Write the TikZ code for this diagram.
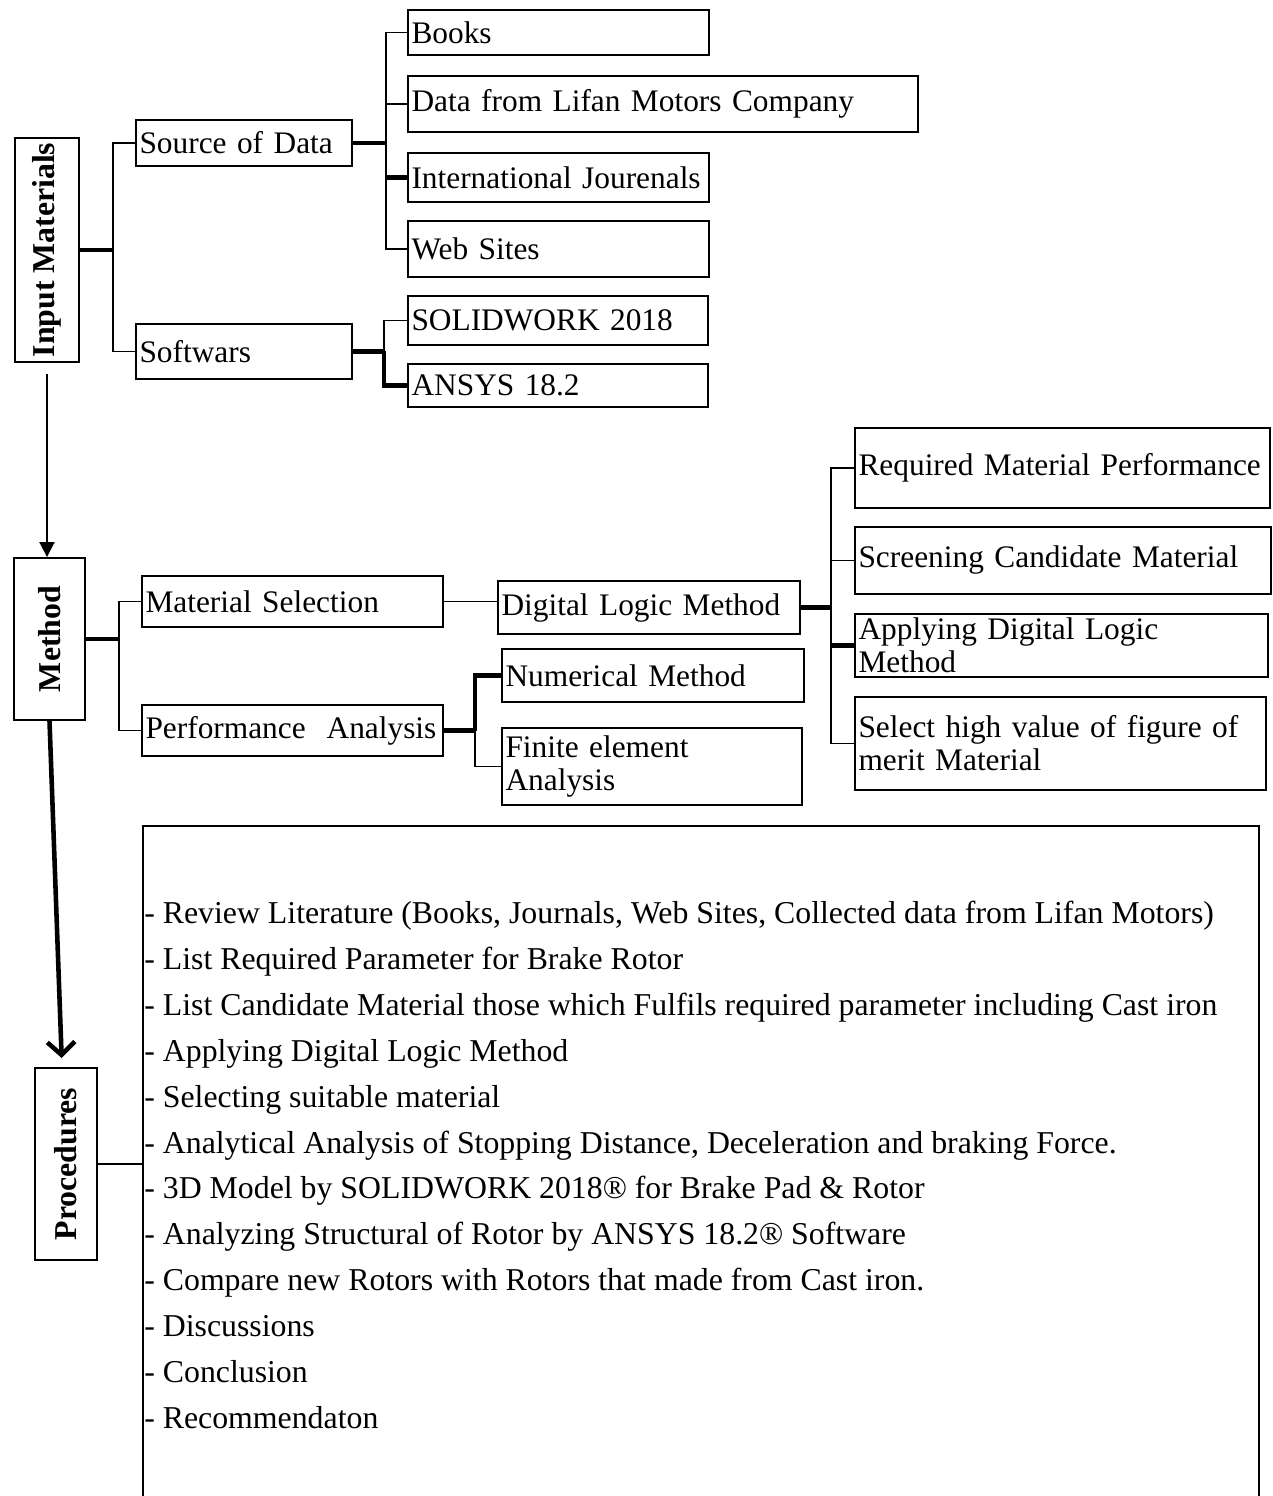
\documentclass[tikz,border=0pt]{standalone}
\usepackage{fontspec}
\setmainfont{Liberation Serif}
\usepackage{graphicx}
\usetikzlibrary{arrows.meta,positioning,calc}
\newcommand{\mainsize}{\fontsize{17.85}{18.8}\selectfont\hyphenpenalty=10000}
\newcommand{\headsize}{\fontsize{18.1}{18.8}\selectfont}
\newcommand{\listsize}{\fontsize{18.1}{26.1}\selectfont}
\tikzset{
  box/.style={draw, rectangle, line width=1.1pt, inner xsep=2pt, inner ysep=0pt,
              align=left, font=\mainsize},
  headbox/.style={draw, rectangle, line width=1.1pt, inner sep=0pt, font=\headsize\bfseries},
  link/.style={line width=1.1pt},
  thicklink/.style={line width=2.3pt},
  arrowthin/.style={-{Triangle[length=3mm,width=3mm]}, line width=1.1pt},
  arrowbold/.style={-{Straight Barb[length=2.6mm,width=5.5mm]}, line width=2.6pt},
}
\begin{document}
\begin{tikzpicture}[x=0.02cm, y=-0.02cm]
\useasboundingbox (0,0) rectangle (1273,1496);
\clip (0,0) rectangle (1273,1496);

% input materials
\node[headbox, minimum width=1.28cm, minimum height=4.48cm] (inmat) at (47,250) {\rotatebox{90}{Input Materials}};
\node[box, text width=4.18cm, minimum height=0.92cm] (srcdata) at (244,143) {Source of Data};
\node[box, text width=4.18cm, minimum height=1.1cm] (soft) at (244,351.5) {Softwars};
\node[box, text width=5.88cm, minimum height=0.9cm] (books) at (558.5,32.5) {Books};
\node[box, text width=10.06cm, minimum height=1.12cm] (lifan) at (663,104) {Data from Lifan Motors Company};
\node[box, text width=5.88cm, minimum height=0.98cm] (journ) at (558.5,177.5) {International Jourenals};
\node[box, text width=5.88cm, minimum height=1.12cm] (web) at (558.5,249) {Web Sites};
\node[box, text width=5.86cm, minimum height=0.98cm] (solid) at (558,320.5) {SOLIDWORK 2018};
\node[box, text width=5.86cm, minimum height=0.86cm] (ansys) at (558,385.5) {ANSYS 18.2};

\draw[thicklink] (inmat.east) -- ++(33,0) coordinate (jin);
\draw[link] (srcdata.west) -| (jin) |- (soft.west);
\draw[thicklink] (srcdata.east) -- ++(33,0) coordinate (jsrc);
\draw[link] (books.west) -| (jsrc) |- (web.west);
\draw[link] (lifan.west) -- (lifan.west -| jsrc);
\draw[thicklink] (journ.west) -- (journ.west -| jsrc);
\draw[thicklink] (soft.east) -- ++(31,0) coordinate (jsoft);
\draw[link] (solid.west) -| (jsoft);
\draw[thicklink] (jsoft) |- (ansys.west);

% method
\node[headbox, minimum width=1.42cm, minimum height=3.24cm] (method) at (49.5,639) {\rotatebox{90}{Method}};
\node[box, text width=5.88cm, minimum height=1.02cm] (matsel) at (292.5,601.5) {Material Selection};
\node[box, text width=5.88cm, minimum height=1.02cm] (perf) at (292.5,730.5) {Performance\ \ Analysis};
\node[box, text width=5.9cm, minimum height=1.06cm] (dlm) at (649,607.5) {Digital Logic Method};
\node[box, text width=5.9cm, minimum height=1.06cm] (numer) at (653,675.5) {Numerical Method};
\node[box, text width=5.86cm, minimum height=1.54cm] (fea) at (652,766.5) {Finite element\\Analysis};
\node[box, text width=8.16cm, minimum height=1.6cm] (reqmat) at (1062.5,468) {Required Material Performance};
\node[box, text width=8.18cm, minimum height=1.34cm] (screen) at (1063,560.5) {Screening Candidate Material};
\node[box, text width=8.12cm, minimum height=1.26cm] (apply) at (1061.5,645.5) {Applying Digital Logic\\Method};
\node[box, text width=8.08cm, minimum height=1.86cm] (select) at (1060.5,743.5) {Select high value of figure of\\merit Material};

\draw[arrowthin, shorten <=0.22cm] (inmat.south) -- (inmat.south |- method.north);
\draw[thicklink] (method.east) -- ++(33,0) coordinate (jmeth);
\draw[link] (matsel.west) -| (jmeth) |- (perf.west);
\draw[link] (matsel.east) -- (matsel.east -| dlm.west);
\draw[thicklink] (perf.east) -- ++(31,0) coordinate (jperf);
\draw[thicklink] (numer.west) -| (jperf);
\draw[link] (jperf) |- (fea.west);
\draw[line width=3pt] (dlm.east) -- ++(30,0) coordinate (jdlm);
\draw[link] (reqmat.west) -| (jdlm) |- (select.west);
\draw[link] (screen.west) -- (screen.west -| jdlm);
\draw[thicklink] (apply.west) -- (apply.west -| jdlm);

% procedures
\node[headbox, minimum width=1.24cm, minimum height=3.84cm] (proc) at (66,1164) {\rotatebox{90}{Procedures}};
\node[draw, line width=1.1pt, minimum width=22.32cm, minimum height=13.6cm, anchor=north west, inner sep=0pt] (lst) at (142,825) {};
\node[anchor=north west, inner sep=0pt, align=left, font=\listsize] (lsttext) at (144,901) {%
- Review Literature (Books, Journals, Web Sites, Collected data from Lifan Motors)\\
- List Required Parameter for Brake Rotor\\
- List Candidate Material those which Fulfils required parameter including Cast iron\\
- Applying Digital Logic Method\\
- Selecting suitable material\\
- Analytical Analysis of Stopping Distance, Deceleration and braking Force.\\
- 3D Model by SOLIDWORK 2018® for Brake Pad \& Rotor\\
- Analyzing Structural of Rotor by ANSYS 18.2® Software\\
- Compare new Rotors with Rotors that made from Cast iron.\\
- Discussions\\
- Conclusion\\
- Recommendaton};

\draw[arrowbold, shorten >=0.18cm] (method.south) -- ([xshift=-0.08cm]proc.north);
\draw[link] (proc.east) -- (proc.east -| lst.west);
\end{tikzpicture}
\end{document}
